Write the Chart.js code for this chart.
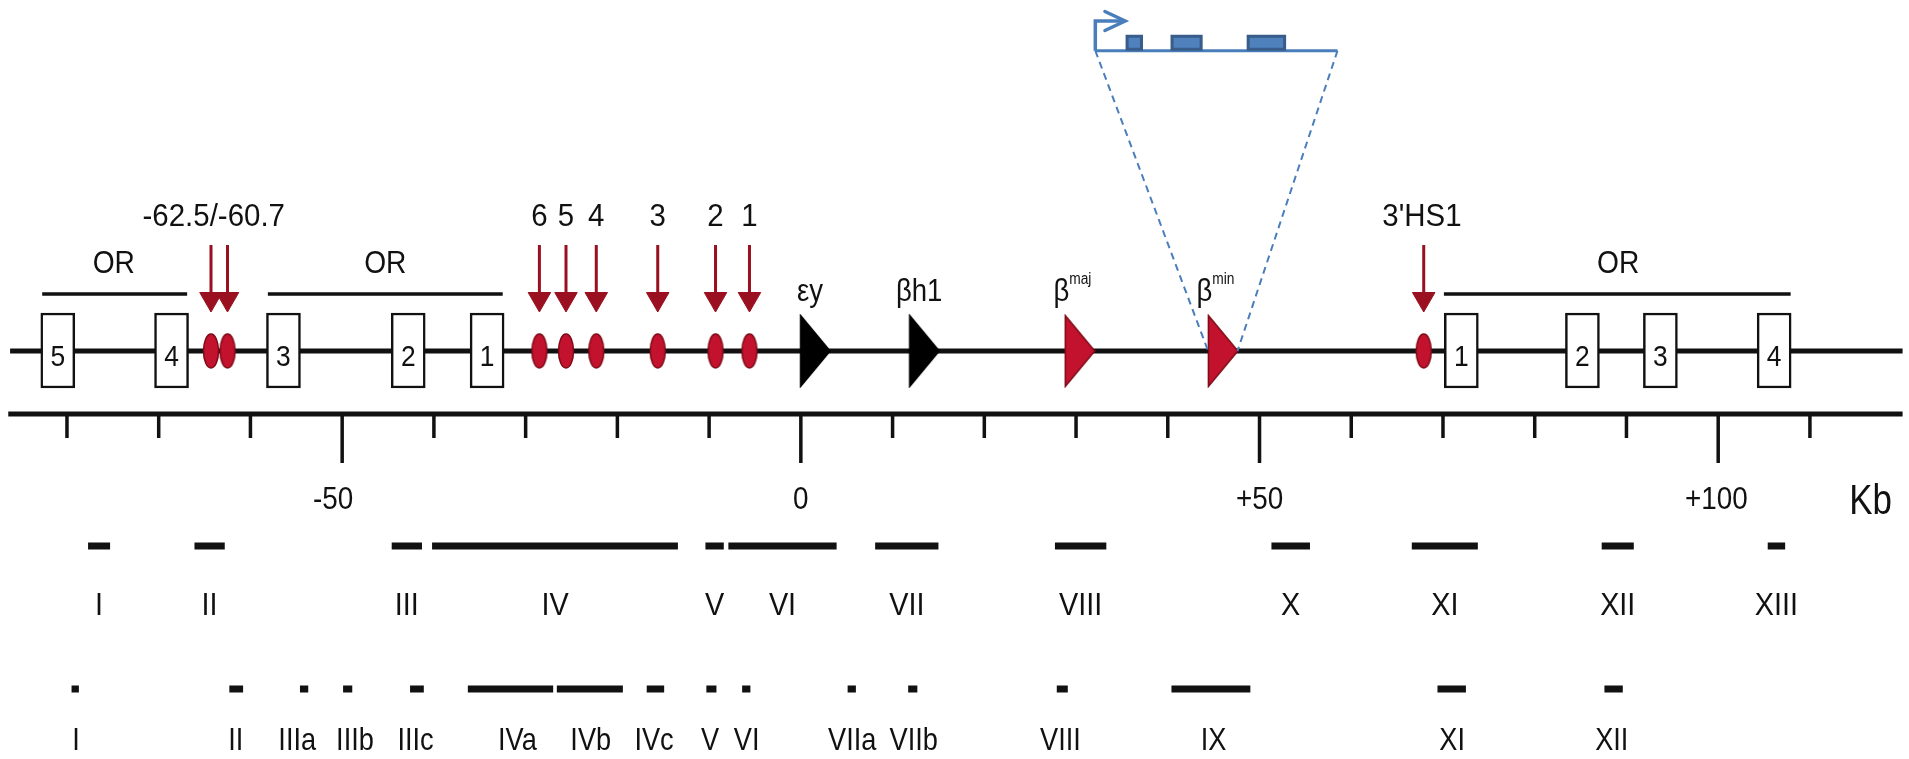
<!DOCTYPE html>
<html>
<head>
<meta charset="utf-8">
<script src="https://cdn.jsdelivr.net/npm/chart.js@4/dist/chart.umd.min.js"></script>
<style>
  html, body { margin: 0; padding: 0; background: #fff; }
  #wrap { width: 1909px; height: 759px; position: relative; }
</style>
</head>
<body>
<div id="wrap"><canvas id="c"></canvas></div>
<script>
// all positions in kb relative to the epsilon-y gene
const majorTicks = [-50, 0, 50, 100]
const majorTickLabels = ['-50', '0', '+50', '+100']
const tickLabelPos = [-51, 0, 50, 99.8]
const minorTicks = [-80, -70, -60, -40, -30, -20, -10, 10, 20, 30, 40, 60, 70, 80, 90, 110]

// olfactory receptor genes
const orBoxes = [-81, -68.6, -56.4, -42.8, -34.2, 72, 85.2, 93.7, 106.1]
const orBoxNames = ['5', '4', '3', '2', '1', '1', '2', '3', '4']
const orSpanStart = [-82.7, -58.1, 70.1]
const orSpanEnd = [-66.9, -32.5, 107.9]
const orLabelPos = [-74.9, -45.3, 89.1]

// hypersensitive sites
const hsSites = [-64.3, -62.5, -28.5, -25.6, -22.3, -15.6, -9.3, -5.6, 67.9]
const hsLabels = ['-62.5/-60.7', '6', '5', '4', '3', '2', '1', "3'HS1"]
const hsLabelPos = [-64.0, -28.5, -25.6, -22.3, -15.6, -9.3, -5.6, 67.7]

// globin genes
const geneNames = ['εy', 'βh1', 'β', 'β']
const geneSup = ['', '', 'maj', 'min']
const geneStart = [-0.1, 11.8, 28.8, 44.4]
const geneEnd = [3.2, 15.1, 32.0, 47.6]
const geneLabelPos = [1.0, 12.9, 29.6, 45.2]
const geneRed = [false, false, true, true]

// fragments, first row
const row1Names = ['I', 'II', 'III', 'IV', 'V', 'VI', 'VII', 'VIII', 'X', 'XI', 'XII', 'XIII']
const row1Start = [-77.7, -66.1, -44.6, -40.2, -10.4, -7.9, 8.1, 27.7, 51.3, 66.6, 87.3, 105.4]
const row1End = [-75.3, -62.8, -41.3, -13.4, -8.4, 3.9, 15.0, 33.3, 55.5, 73.8, 90.8, 107.3]

// fragments, second row
const row2Names = ['I', 'II', 'IIIa', 'IIIb', 'IIIc', 'IVa', 'IVb', 'IVc', 'V', 'VI', 'VIIa', 'VIIb', 'VIII', 'IX', 'XI', 'XII']
const row2Start = [-79.5, -62.3, -54.6, -49.9, -42.6, -36.3, -26.6, -16.8, -10.3, -6.4, 5.1, 11.7, 27.9, 40.4, 69.4, 87.6]
const row2End = [-78.7, -60.8, -53.7, -48.9, -41.1, -27.0, -19.4, -14.9, -9.2, -5.5, 6.0, 12.7, 29.1, 49.0, 72.5, 89.6]
const row2LabelPos = [-79.0, -61.6, -54.9, -48.6, -42.0, -30.9, -22.9, -16.0, -9.9, -5.9, 5.6, 12.3, 28.3, 45.0, 71.0, 88.4]

// enlarged beta-min gene (drawn on the kb axis above the locus)
const insetSpan = [32.1, 58.5]
const insetTss = 35.35
const exonStart = [35.4, 40.3, 48.6]
const exonEnd = [37.3, 43.8, 52.9]

// vertical lanes (drawing rows, top = 0)
const lane = {
  tss: 21, exon: 42.7, inset: 50.7,
  topLabel: 217, orLabel: 264, geneLabel: 292, orLine: 294,
  arrowTop: 245, arrowHead: 299,
  boxTop: 313, chrom: 351, boxBottom: 388,
  axis: 414, minorEnd: 438, majorEnd: 463, tickLabel: 500,
  row1: 546, row1Label: 606, row2: 689, row2Label: 741
}

const RED = '#c3122d'
const DARKRED = '#9a1020'
const BLUE = '#4a7ebb'
const FONT = '"Liberation Sans", Arial, sans-serif'

const hseg = (starts, ends, yv) => starts.flatMap((s, i) => [{x: s, y: yv}, {x: ends[i], y: yv}, {x: ends[i], y: null}])
const vseg = (xs, y0, y1) => xs.flatMap(x => [{x, y: y0}, {x, y: y1}, {x, y: null}])
const pts = (xs, yv) => xs.map(x => ({x, y: yv}))

const lineDs = (data, width, color, extra) => Object.assign({
  type: 'line', data, borderColor: color, borderWidth: width, pointRadius: 0,
  fill: false, tension: 0, borderCapStyle: 'butt', spanGaps: false
}, extra || {})

// shapes for point styles
const makeImg = (w, h, draw) => {
  const cv = document.createElement('canvas')
  cv.width = w; cv.height = h
  draw(cv.getContext('2d'))
  return cv
}
const ovalImg = makeImg(18, 38, g => {
  g.beginPath(); g.ellipse(9, 19, 7.5, 17, 0, 0, Math.PI * 2)
  g.fillStyle = RED; g.fill(); g.lineWidth = 1.5; g.strokeStyle = '#7e0a17'; g.stroke()
})
const triImg = (fill, stroke) => makeImg(32, 74, g => {
  g.beginPath(); g.moveTo(1.5, 1.5); g.lineTo(31, 37); g.lineTo(1.5, 72.5); g.closePath()
  g.fillStyle = fill; g.fill(); g.lineWidth = 1.5; g.strokeStyle = stroke; g.stroke()
})
const blackTri = triImg('#000', '#000')
const redTri = triImg(RED, '#7e0a17')

const genePts = geneStart.map((s, i) => ({x: (s + geneEnd[i]) / 2, y: lane.chrom}))

const datasets = [
  // dashed zoom lines
  lineDs([{x: insetSpan[0], y: lane.inset}, {x: geneStart[3], y: lane.chrom}], 2, BLUE, {borderDash: [7, 5]}),
  lineDs([{x: insetSpan[1], y: lane.inset}, {x: geneEnd[3], y: lane.chrom}], 2, BLUE, {borderDash: [7, 5]}),
  // OR boxes
  {
    type: 'bar', data: orBoxes.map(x => ({x, y: [lane.boxTop, lane.boxBottom]})),
    backgroundColor: '#fff', borderColor: '#111', borderWidth: 2.5, borderSkipped: false,
    barThickness: 34, grouped: false
  },
  // HS sites
  {type: 'scatter', data: pts(hsSites, lane.chrom), pointStyle: ovalImg, pointRadius: 10, showLine: false},
  // genes
  {type: 'scatter', data: genePts, pointStyle: geneRed.map(r => r ? redTri : blackTri), pointRadius: 10, showLine: false},
  // arrowheads and shafts
  {type: 'scatter', data: pts(hsSites, lane.arrowHead), pointStyle: 'triangle', rotation: 180,
   pointRadius: 13, backgroundColor: DARKRED, borderColor: DARKRED, borderWidth: 1, showLine: false},
  lineDs(vseg(hsSites, lane.arrowTop, lane.arrowHead), 3, DARKRED),
  // inset gene
  lineDs(hseg(exonStart.map(s => s + 0.33), exonEnd.map(e => e - 0.33), lane.exon), 10, '#4f81bd'),
  lineDs(hseg(exonStart, exonEnd, lane.exon), 16, '#385d8a'),
  lineDs(hseg([insetSpan[0]], [insetSpan[1]], lane.inset), 3, BLUE),
  lineDs([{x: insetSpan[0], y: lane.inset}, {x: insetSpan[0], y: lane.tss}, {x: insetTss, y: lane.tss}], 3.5, BLUE, {borderJoinStyle: 'miter'}),
  lineDs([{x: insetTss - 2.2, y: lane.tss - 9.5}, {x: insetTss, y: lane.tss}, {x: insetTss - 2.2, y: lane.tss + 9.5}], 3.5, BLUE, {borderCapStyle: 'round'}),
  // OR spans
  lineDs(hseg(orSpanStart, orSpanEnd, lane.orLine), 3.5, '#111'),
  // chromosome and axis
  lineDs(hseg([-86.2], [120.1], lane.chrom), 5, '#111'),
  lineDs(hseg([-86.4], [120.1], lane.axis), 5, '#111'),
  lineDs(vseg(minorTicks, lane.axis, lane.minorEnd), 3.5, '#111'),
  lineDs(vseg(majorTicks, lane.axis, lane.majorEnd), 3.5, '#111'),
  // fragments
  lineDs(hseg(row1Start, row1End, lane.row1), 7, '#111'),
  lineDs(hseg(row2Start, row2End, lane.row2), 7, '#111')
]

// text labels
const labels = []
const add = (text, x, y, size, opt) => labels.push(Object.assign({text, x, y, size}, opt || {}))
majorTicks.forEach((t, i) => add(majorTickLabels[i], tickLabelPos[i], lane.tickLabel, 32, {sx: 0.87}))
add('Kb', 116.6, lane.tickLabel + 2, 42, {sx: 0.83})
orBoxes.forEach((b, i) => add(orBoxNames[i], b, lane.chrom + 7, 30, {sx: 0.88}))
orLabelPos.forEach(p => add('OR', p, lane.orLabel, 32, {sx: 0.88}))
hsLabels.forEach((t, i) => add(t, hsLabelPos[i], lane.topLabel, 32, {sx: 0.92}))
geneNames.forEach((t, i) => add(t, geneLabelPos[i], lane.geneLabel, 32, {sx: 0.86, sup: geneSup[i]}))
row1Names.forEach((t, i) => add(t, (row1Start[i] + row1End[i]) / 2, lane.row1Label, 32, {sx: 0.9}))
row2Names.forEach((t, i) => add(t, row2LabelPos[i], lane.row2Label, 32, {sx: 0.85}))

const textPlugin = {
  id: 'texts',
  afterDatasetsDraw(chart) {
    const {ctx, scales: {x, y}} = chart
    labels.forEach(l => {
      ctx.save()
      ctx.translate(x.getPixelForValue(l.x), y.getPixelForValue(l.y))
      ctx.scale(l.sx || 1, 1)
      ctx.fillStyle = '#111'
      ctx.textBaseline = 'middle'
      ctx.font = l.size + 'px ' + FONT
      if (l.sup) {
        const supFont = Math.round(l.size * 0.5) + 'px ' + FONT
        const w0 = ctx.measureText(l.text).width
        ctx.font = supFont
        const w1 = ctx.measureText(l.sup).width
        const left = -(w0 + w1) / 2
        ctx.textAlign = 'left'
        ctx.font = l.size + 'px ' + FONT
        ctx.fillText(l.text, left, 0)
        ctx.font = supFont
        ctx.fillText(l.sup, left + w0, -l.size * 0.38)
      } else {
        ctx.textAlign = 'center'
        ctx.fillText(l.text, 0, 0)
      }
      ctx.restore()
    })
  }
}

new Chart(document.getElementById('c'), {
  type: 'line',
  data: {datasets},
  options: {
    responsive: true,
    maintainAspectRatio: false,
    animation: false,
    events: [],
    layout: {padding: 0, autoPadding: false},
    plugins: {legend: {display: false}, tooltip: {enabled: false}},
    scales: {
      x: {type: 'linear', min: -87.3, max: 120.8, display: false, offset: false},
      y: {type: 'linear', min: 0, max: 759, reverse: true, display: false}
    }
  },
  plugins: [textPlugin]
})
</script>
</body>
</html>
